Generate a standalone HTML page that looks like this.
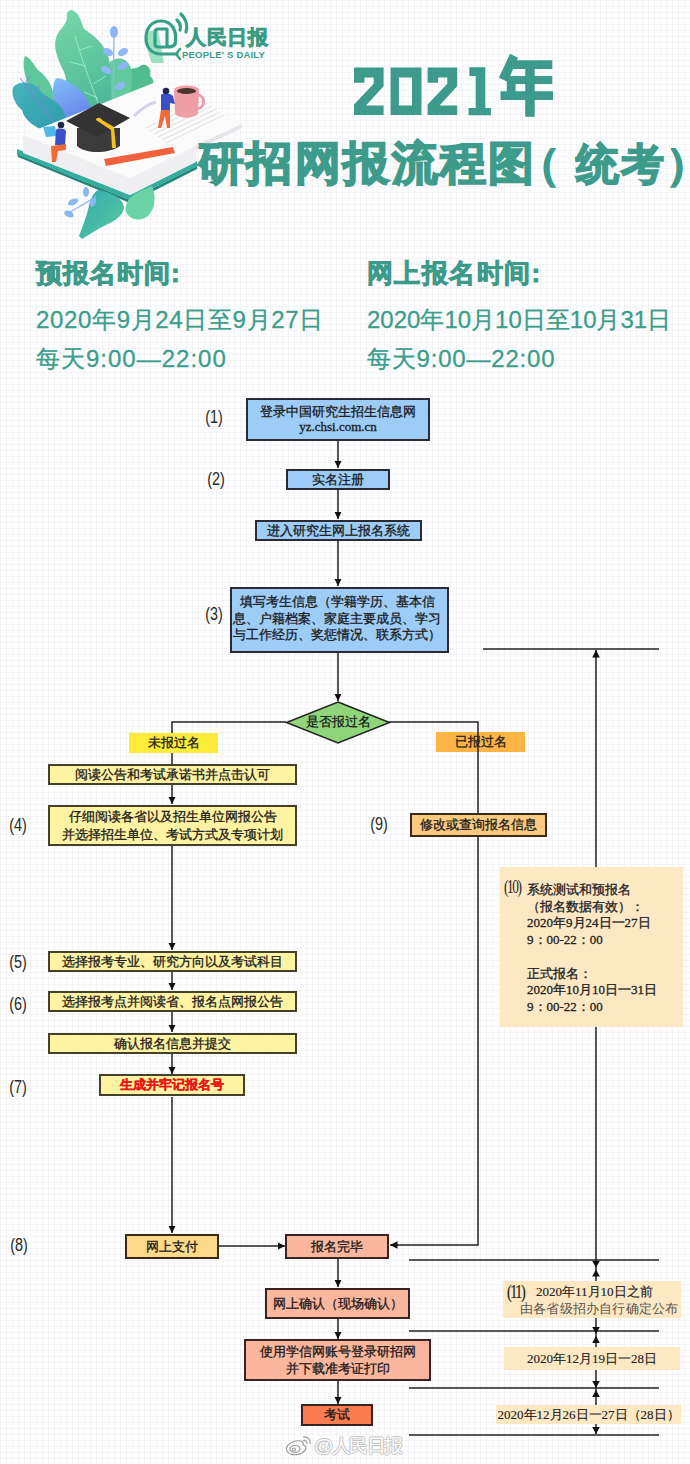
<!DOCTYPE html>
<html><head><meta charset="utf-8">
<style>
html,body{margin:0;padding:0;}
body{width:690px;height:1464px;position:relative;overflow:hidden;font-family:"Liberation Sans",sans-serif;
background-color:#fdfdfd;
background-image:linear-gradient(to right, rgba(200,200,215,0.14) 1px, transparent 1px),linear-gradient(to bottom, rgba(200,200,215,0.14) 1px, transparent 1px);
background-size:6px 6px;}
.a{position:absolute;}
.bx{position:absolute;box-sizing:border-box;border:2px solid #2a2a33;-webkit-text-stroke:0.3px currentColor;display:flex;align-items:center;justify-content:center;text-align:center;font-size:13.3px;color:#1a1a1a;line-height:16px;white-space:nowrap;}
.blue{background:#9dccf6;}
.yel{background:#fef3a2;border-color:#45402a;}
.org{background:#fcca7e;border-color:#3a2a18;}
.sal{background:#fbb69e;border-color:#3a2222;}
.lbl{position:absolute;font-size:18px;line-height:20px;color:#2a2a2a;transform:translate(-50%,-50%) scaleX(0.8);white-space:nowrap;}
.t1{position:absolute;font-weight:bold;color:#3c9a89;font-size:26px;white-space:nowrap;-webkit-text-stroke:0.9px #3c9a89;letter-spacing:1px;}
.t2{position:absolute;color:#3a9e8b;font-size:24px;white-space:nowrap;-webkit-text-stroke:0.3px #3a9e8b;}
.serif{font-family:"Liberation Serif",serif;}
</style></head><body>


<!-- illustration -->
<svg class="a" style="left:0;top:0" width="245" height="245" viewBox="0 0 245 245">
<defs>
<linearGradient id="g1" x1="0" y1="0" x2="0.3" y2="1"><stop offset="0" stop-color="#78d8a8"/><stop offset="1" stop-color="#4db898"/></linearGradient>
<linearGradient id="g2" x1="0" y1="0" x2="0.4" y2="1"><stop offset="0" stop-color="#80c0f8"/><stop offset="1" stop-color="#6a84ee"/></linearGradient>
<linearGradient id="g3" x1="0" y1="0" x2="1" y2="1"><stop offset="0" stop-color="#44b4bc"/><stop offset="1" stop-color="#2e9caa"/></linearGradient>
<linearGradient id="g4" x1="0" y1="0" x2="1" y2="1"><stop offset="0" stop-color="#32a8b0"/><stop offset="1" stop-color="#5acb9e"/></linearGradient>
</defs>
<!-- back leaves -->
<path d="M112,118 C112,100 116,84 124,74 C130,66 136,70 140,66 C146,62 152,68 150,76 C156,80 154,92 148,100 C144,108 136,114 128,120 Z" fill="#4fbd8e"/>
<path d="M72,10 C80,13 81,22 84,29 C95,36 104,44 108,56 C112,70 115,90 114,106 L104,124 L70,110 C66,94 68,82 64,72 C58,60 53,48 56,38 C58,30 66,26 67,18 C66,13 68,10 72,10 Z" fill="url(#g1)"/>
<path d="M110,62 C118,56 126,58 130,66 C134,76 132,92 126,108 L112,118 Z" fill="#62ca9e"/>
<g stroke="#a6ecd2" stroke-width="0.8" fill="none"><path d="M75,36 C82,60 92,88 104,118"/><path d="M80,50 L92,46 M86,66 L70,62 M93,84 L106,76 M98,98 L84,92"/></g>
<path d="M25,56 C31,58 33,64 38,70 C46,76 52,84 54,96 C55,106 52,114 46,114 C38,104 32,94 28,84 C24,74 22,62 25,56 Z" fill="#5ec89c"/>
<path d="M58,78 C68,80 80,88 86,98 C91,106 92,114 90,122 L60,124 C54,114 52,98 53,88 C54,82 55,78 58,78 Z" fill="url(#g2)"/>
<path d="M14,86 C22,80 34,82 40,90 C44,96 50,98 56,102 C64,108 68,118 64,128 L42,130 C30,124 24,118 22,110 C14,104 10,92 14,86 Z" fill="url(#g3)"/>
<g stroke="#8a7ae0" stroke-width="1" fill="none"><path d="M20,78 L54,122 M26,82 L30,76 M34,92 L40,86 M42,102 L48,96"/></g>
<g fill="#8fb6f4">
<ellipse cx="114" cy="32" rx="4" ry="6"/><ellipse cx="108" cy="52" rx="5.5" ry="3.5" transform="rotate(30 108 52)"/><ellipse cx="123" cy="52" rx="5.5" ry="3.5" transform="rotate(-30 123 52)"/>
<ellipse cx="106" cy="70" rx="5.5" ry="3.5" transform="rotate(30 106 70)"/><ellipse cx="123" cy="66" rx="5.5" ry="3.5" transform="rotate(-30 123 66)"/><ellipse cx="120" cy="86" rx="5.5" ry="3.5" transform="rotate(-30 120 86)"/>
</g>
<path d="M114,36 L113,118" stroke="#8fb6f4" stroke-width="1.3"/>
<!-- book -->
<path d="M17,154 L130,200 L197,166 L197,161 L130,195 L17,149 Z" fill="#31ae9e"/>
<path d="M17,154 L130,200 L197,166 L197,169 L130,203 L18,157 Z" fill="#22867c"/>
<path d="M23,135 L130,178 L196,145 L196,162 L130,195 L23,153 Z" fill="#efeff2"/>
<path d="M23,135 L161,80 L242,124 L196,146 L130,178 Z" fill="#fbfbfc"/>
<path d="M196,145 L242,124 L242,128 L196,150 Z" fill="#e6e6ea"/>
<g stroke="#d2d3da" stroke-width="0.7">
<line x1="150" y1="131" x2="208" y2="103"/><line x1="154" y1="134" x2="212" y2="106"/><line x1="158" y1="137" x2="216" y2="109"/><line x1="162" y1="140" x2="220" y2="112"/><line x1="166" y1="143" x2="224" y2="115"/><line x1="146" y1="128" x2="204" y2="100"/>
</g>
<path d="M134,116 C140,110 148,104 156,102" stroke="#d8d0e6" stroke-width="3" fill="none"/>
<!-- pencil -->
<path d="M104,159 L173,147 L175,153 L106,166 Z" fill="#f2603c"/>
<!-- cap -->
<path d="M77,128 L77,146 C86,154 108,154 120,146 L120,128 Z" fill="#3b3b3b"/>
<path d="M66,121 L99,103 L130,118 L97,137 Z" fill="#333"/>
<path d="M96,120 C96,117 101,117 102,120 L114,127 L116,148 L112,148 L111,130 Z" fill="#f4c21c"/>
<!-- mug -->
<path d="M174,90 L199,90 L198,114 C192,119 181,119 175,114 Z" fill="#ef9ea6"/>
<ellipse cx="186.5" cy="90" rx="12.5" ry="4.5" fill="#ef9ea6"/>
<ellipse cx="186.5" cy="91" rx="9.5" ry="3" fill="#4a342c"/>
<path d="M198,95 C205,95 206,108 197,109" stroke="#ef9ea6" stroke-width="3" fill="none"/>
<!-- person 1 -->
<path d="M43,127 L55,126 L57,136 L46,137 Z" fill="#52b8e8"/>
<path d="M56,130 C58,128 64,128 66,131 L65,145 L55,145 Z" fill="#3b4fc6"/>
<circle cx="61" cy="125" r="3.3" fill="#1f2850"/>
<path d="M51,146 L66,144 L66,150 L58,151 L56,162 L52,162 Z" fill="#f06a3a"/>
<!-- person 2 -->
<path d="M161,95 C163,93 170,93 173,96 L175,104 L170,103 L170,110 L161,110 Z" fill="#3b4fc6"/>
<circle cx="166" cy="91" r="3.3" fill="#1f2850"/>
<path d="M161,110 L170,110 L170,128 L167,128 L165,116 L161,128 L158,128 Z" fill="#f06a3a"/>
<!-- bottom leaves -->
<path d="M98,190 C110,192 124,198 124,208 C122,218 112,222 104,226 C96,230 90,234 82,239 L79,236 C82,228 86,218 88,210 C90,200 92,194 98,190 Z" fill="url(#g4)"/>
<path d="M152,186 C156,196 156,208 148,216 C140,222 130,220 126,212 C124,204 130,196 138,192 C142,190 148,188 152,186 Z" fill="#6ad4a6"/>
<g fill="#8ab8f2"><ellipse cx="73" cy="202" rx="5.5" ry="3" transform="rotate(-25 73 202)"/><ellipse cx="86" cy="192" rx="3" ry="5"/><ellipse cx="69" cy="214" rx="5" ry="3" transform="rotate(25 69 214)"/><ellipse cx="93" cy="202" rx="3" ry="5" transform="rotate(20 93 202)"/></g>
<path d="M66,214 C76,208 86,204 96,196" stroke="#8ab8f2" stroke-width="1.2" fill="none"/>
</svg>

<!-- logo -->
<svg class="a" style="left:135px;top:8px" width="60" height="55" viewBox="135 8 60 55">
<path d="M145,32 C146,44 148,54 152,64 L164,64 C162,52 160,40 158,30 Z" fill="#7fd8ae" opacity="0.75"/>
<g stroke="#34a086" stroke-width="3.2" fill="none" stroke-linecap="round">
<path d="M175,44 C178,30 171,21 161,21 C151,21 146,29 146,38 C146,48 152,54 161,54 L177,54"/>
<path d="M167,29 L158,29 C155,29 155,31 155,34 L155,44 C155,46 156,47 158,47 L167,47 L167,29 M167,47 C171,47 174,46 175,44"/>
<path d="M176,54 L180,49 M176,54 L180,59" stroke-width="2.4"/>
<path d="M177,20 C180,23 181,27 180,30"/>
<path d="M181,14 C186,19 188,26 186,32"/>
</g>
</svg>
<div class="a" style="left:186px;top:24px;font-size:20px;font-weight:bold;color:#3a9c84;letter-spacing:0.5px;white-space:nowrap;-webkit-text-stroke:0.9px #3a9c84">人民日报</div>
<div class="a" style="left:182px;top:49px;font-size:9.5px;font-weight:bold;color:#3a9c84;white-space:nowrap;letter-spacing:0.2px">PEOPLE' S DAILY</div>

<!-- title 2021年 -->
<svg class="a" style="left:345px;top:45px" width="220" height="80" viewBox="0 0 220 80">
<g fill="#3d9b8b">
<path id="two" d="M9,12.5 L38.6,12.5 L38.6,31.3 L20.9,50.4 L38.6,50.4 L38.6,60 L9,60 L9,49.6 L28.7,28.7 L28.7,22.6 L19.5,22.6 L19.5,27.8 L9,27.8 Z" transform="translate(0,10)"/>
<path d="M45.6,22.5 L76.5,22.5 L76.5,70 L45.6,70 Z M53.9,32.6 L53.9,60.4 L67,60.4 L67,32.6 Z" fill-rule="evenodd"/>
<path d="M9,12.5 L38.6,12.5 L38.6,31.3 L20.9,50.4 L38.6,50.4 L38.6,60 L9,60 L9,49.6 L28.7,28.7 L28.7,22.6 L19.5,22.6 L19.5,27.8 L9,27.8 Z" transform="translate(73.6,10)"/>
<path d="M124.4,22.3 L140.3,22.3 L140.3,63 L145.9,63 L145.9,70.2 L123.6,70.2 L123.6,63 L130.7,63 L130.7,31.1 L124.4,31.1 Z"/>
<path d="M165,8.8 L173,12.8 L162.6,36.7 L153.9,32.7 Z"/>
<path d="M165,15.2 L207.3,15.2 L207.3,23.9 L162,23.9 Z"/>
<path d="M166.6,31.1 L207.3,31.1 L207.3,39.1 L166.6,39.1 Z"/>
<path d="M161.8,31.1 L170.6,31.1 L170.6,47.8 L161.8,47.8 Z"/>
<path d="M155.5,46.2 L208,46.2 L208,55 L155.5,55 Z"/>
<path d="M180.2,23.9 L189.7,23.9 L189.7,71.8 L180.2,71.8 Z"/>
</g>
</svg>
<div class="a" style="left:198px;top:133px;font-size:46px;font-weight:bold;color:#3d9b8b;white-space:nowrap;line-height:60px;letter-spacing:2.4px;-webkit-text-stroke:1.8px #3d9b8b">研招网报流程图</div>
<div class="a" style="left:517px;top:134px;font-size:43px;font-weight:bold;color:#3d9b8b;white-space:nowrap;line-height:60px;-webkit-text-stroke:1.6px #3d9b8b">（</div><div class="a" style="left:576px;top:134px;font-size:43px;font-weight:bold;color:#3d9b8b;white-space:nowrap;line-height:60px;-webkit-text-stroke:1.6px #3d9b8b;letter-spacing:2px">统考）</div>

<div class="a" style="left:436px;top:732px;width:89px;height:20px;background:#fbb445;font-size:13px;line-height:20px;text-align:center;color:#222;-webkit-text-stroke:0.3px #222">已报过名</div>
<!-- flowchart lines -->
<svg class="a" style="left:0;top:0" width="690" height="1464" viewBox="0 0 690 1464">
<defs>
<marker id="ar" viewBox="0 0 10 10" refX="10" refY="5" markerWidth="7.5" markerHeight="7.5" markerUnits="userSpaceOnUse" orient="auto"><path d="M0,0 L10,5 L0,10 z" fill="#111"/></marker>
</defs>
<g stroke="#222" stroke-width="1.5" fill="none">
<line x1="338" y1="440" x2="338" y2="468" marker-end="url(#ar)"/>
<line x1="338" y1="489" x2="338" y2="519" marker-end="url(#ar)"/>
<line x1="338" y1="541" x2="338" y2="586" marker-end="url(#ar)"/>
<line x1="338" y1="652" x2="338" y2="701" marker-end="url(#ar)"/>
<polyline points="286,722 172,722 172,764"/>
<line x1="172" y1="785" x2="172" y2="804" marker-end="url(#ar)"/>
<line x1="172" y1="845" x2="172" y2="950" marker-end="url(#ar)"/>
<line x1="172" y1="971" x2="172" y2="990" marker-end="url(#ar)"/>
<line x1="172" y1="1012" x2="172" y2="1032" marker-end="url(#ar)"/>
<line x1="172" y1="1054" x2="172" y2="1074" marker-end="url(#ar)"/>
<line x1="172" y1="1097" x2="172" y2="1233" marker-end="url(#ar)"/>
<line x1="219" y1="1246" x2="285" y2="1246" marker-end="url(#ar)"/>
<polyline points="389,722 478,722 478,1245 390,1245" marker-end="url(#ar)"/>
<line x1="483" y1="649" x2="659" y2="649"/>
<line x1="596" y1="1434" x2="596" y2="650" marker-end="url(#ar)"/>
<line x1="338" y1="1259" x2="338" y2="1287" marker-end="url(#ar)"/>
<line x1="338" y1="1318" x2="338" y2="1339" marker-end="url(#ar)"/>
<line x1="338" y1="1381" x2="338" y2="1404" marker-end="url(#ar)"/>
<line x1="409" y1="1260" x2="659" y2="1260"/>
<line x1="409" y1="1331" x2="659" y2="1331"/>
<line x1="409" y1="1388" x2="659" y2="1388"/>
<line x1="409" y1="1435" x2="659" y2="1435"/>
</g>
<g fill="#111">
<path d="M592.2,1261 L599.8,1261 L596,1267.5 z"/><path d="M592.2,1276.5 L599.8,1276.5 L596,1269.5 z"/>
<path d="M592.2,1327 L599.8,1327 L596,1334 z"/><path d="M592.2,1343 L599.8,1343 L596,1336 z"/>
<path d="M592.2,1381 L599.8,1381 L596,1388 z"/><path d="M592.2,1397 L599.8,1397 L596,1390 z"/>
<path d="M592.2,1427 L599.8,1427 L596,1434 z"/>
</g>
<polygon points="338,702 389.5,722.5 338,743 286.5,722.5" fill="#8fd67a" stroke="#222" stroke-width="1.5"/>
</svg>

<!-- boxes -->
<div class="bx blue" style="left:246px;top:398px;width:184px;height:43px;flex-direction:column;line-height:15px;padding-bottom:2px;">登录中国研究生招生信息网<span class="serif" style="font-size:13px">yz.chsi.com.cn</span></div>
<div class="bx blue" style="left:286px;top:469px;width:104px;height:21px;">实名注册</div>
<div class="bx blue" style="left:255px;top:520px;width:167px;height:21px;">进入研究生网上报名系统</div>
<div class="bx blue" style="left:230px;top:587px;width:219px;height:66px;display:block;text-align:left;padding:5px 0 0 1px;line-height:16.5px;">&nbsp;&nbsp;填写考生信息（学籍学历、基本信<br>息、户籍档案、家庭主要成员、学习<br>与工作经历、奖惩情况、联系方式）</div>
<div class="a" style="left:338px;top:722px;transform:translate(-50%,-50%);font-size:13.3px;color:#111;-webkit-text-stroke:0.2px #111;white-space:nowrap">是否报过名</div>

<div class="a" style="left:129px;top:733px;width:89px;height:20px;background:#fdeb3a;font-size:13px;line-height:20px;text-align:center;color:#222;-webkit-text-stroke:0.3px #222">未报过名</div>

<div class="bx yel" style="left:48px;top:764px;width:249px;height:21px;">阅读公告和考试承诺书并点击认可</div>
<div class="bx yel" style="left:48px;top:805px;width:249px;height:41px;flex-direction:column;line-height:17.5px;">仔细阅读各省以及招生单位网报公告<span>并选择招生单位、考试方式及专项计划</span></div>
<div class="bx yel" style="left:48px;top:951px;width:249px;height:21px;">选择报考专业、研究方向以及考试科目</div>
<div class="bx yel" style="left:48px;top:991px;width:249px;height:21px;">选择报考点并阅读省、报名点网报公告</div>
<div class="bx yel" style="left:48px;top:1033px;width:249px;height:21px;">确认报名信息并提交</div>
<div class="bx yel" style="left:99px;top:1074px;width:146px;height:22px;color:#f01414;font-weight:bold;">生成并牢记报名号</div>

<div class="bx org" style="left:410px;top:813px;width:137px;height:24px;">修改或查询报名信息</div>
<div class="bx org" style="left:125px;top:1234px;width:94px;height:25px;background:#fdd98c">网上支付</div>
<div class="bx sal" style="left:285px;top:1234px;width:104px;height:25px;">报名完毕</div>
<div class="bx sal" style="left:265px;top:1288px;width:145px;height:31px;">网上确认（现场确认）</div>
<div class="bx sal" style="left:244px;top:1339px;width:187px;height:42px;flex-direction:column;line-height:17.5px;">使用学信网账号登录研招网<span>并下载准考证打印</span></div>
<div class="bx sal" style="left:301px;top:1404px;width:72px;height:22px;background:#fa7d52;">考试</div>

<!-- step labels -->
<div class="lbl" style="left:214px;top:417px">(1)</div>
<div class="lbl" style="left:216px;top:479px">(2)</div>
<div class="lbl" style="left:214px;top:614px">(3)</div>
<div class="lbl" style="left:18px;top:825px">(4)</div>
<div class="lbl" style="left:18px;top:962px">(5)</div>
<div class="lbl" style="left:18px;top:1004px">(6)</div>
<div class="lbl" style="left:18px;top:1087px">(7)</div>
<div class="lbl" style="left:19px;top:1245px">(8)</div>
<div class="lbl" style="left:379px;top:824px">(9)</div>

<!-- box 10 -->
<div class="a" style="left:500px;top:867px;width:183px;height:160px;background:#fde8c4;font-size:13px;line-height:16.7px;color:#222;-webkit-text-stroke:0.3px #222;"><div class="a serif" style="left:4px;top:10px;font-size:19px;line-height:20px;transform:scaleX(0.7);transform-origin:0 0;letter-spacing:-2px;-webkit-text-stroke:0px">(10)</div><div class="a serif" style="left:27px;top:15px;white-space:nowrap;">系统测试和预报名<br>（报名数据有效）：<br>2020年9月24日一27日<br>9：00-22：00<br><br>正式报名：<br>2020年10月10日一31日<br>9：00-22：00</div></div>

<!-- right labels -->
<div class="a serif" style="left:503px;top:1281px;width:178px;height:37px;background:#fde8c4;font-size:13px;color:#222;line-height:17px;-webkit-text-stroke:0.15px #222;"><div class="a" style="left:4px;top:1px;font-size:19px;line-height:20px;transform:scaleX(0.75);transform-origin:0 0;letter-spacing:-2px;-webkit-text-stroke:0.2px #222">(11)</div><div class="a" style="left:33px;top:2px;white-space:nowrap">2020年11月10日之前</div><div class="a" style="left:17px;top:19px;white-space:nowrap;color:#555;-webkit-text-stroke:0px #555;letter-spacing:0.2px">由各省级招办自行确定公布</div></div>
<div class="a serif" style="left:504px;top:1347px;width:176px;height:23px;background:#fde8c4;font-size:13px;color:#222;line-height:23px;-webkit-text-stroke:0.15px #222;text-align:center;white-space:nowrap">2020年12月19日一28日</div>
<div class="a serif" style="left:496px;top:1405px;width:185px;height:19px;background:#fde8c4;font-size:13px;color:#222;line-height:19px;-webkit-text-stroke:0.15px #222;text-align:center;white-space:nowrap">2020年12月26日一27日（28日）</div>

<!-- times -->
<div class="t1" style="left:36px;top:256px">预报名时间:</div>
<div class="t2" style="left:36px;top:304px;letter-spacing:0.65px">2020年9月24日至9月27日</div>
<div class="t2" style="left:36px;top:343px;letter-spacing:1px">每天9:00—22:00</div>
<div class="t1" style="left:367px;top:256px;letter-spacing:1.4px">网上报名时间:</div>
<div class="t2" style="left:367px;top:304px">2020年10月10日至10月31日</div>
<div class="t2" style="left:367px;top:343px;letter-spacing:0.8px">每天9:00—22:00</div>


<!-- watermark -->
<svg class="a" style="left:283px;top:1432px" width="32" height="26" viewBox="0 0 32 26">
<g fill="none" stroke="#999" stroke-width="1.1">
<path d="M12,9 C5,11 2,16 4,19 C6,23 14,24 19,21 C24,18 24,13 20,13 C21,10 19,8 12,9 Z" fill="#fafafa"/>
<ellipse cx="12" cy="17" rx="5" ry="3.5"/>
<circle cx="11" cy="17.5" r="1.5"/>
<path d="M20,5 C25,4 28,8 27,12"/>
<path d="M20,8.5 C23,8 24.5,10 24,12"/>
</g>
</svg>
<div class="a" style="left:314px;top:1435px;font-size:19px;color:#ffffff;text-shadow:1px 0 #c4c4c4,-1px 0 #c4c4c4,0 1px #c4c4c4,0 -1px #c4c4c4;white-space:nowrap;letter-spacing:-1.5px;line-height:22px">@人民日报</div>
</body></html>
